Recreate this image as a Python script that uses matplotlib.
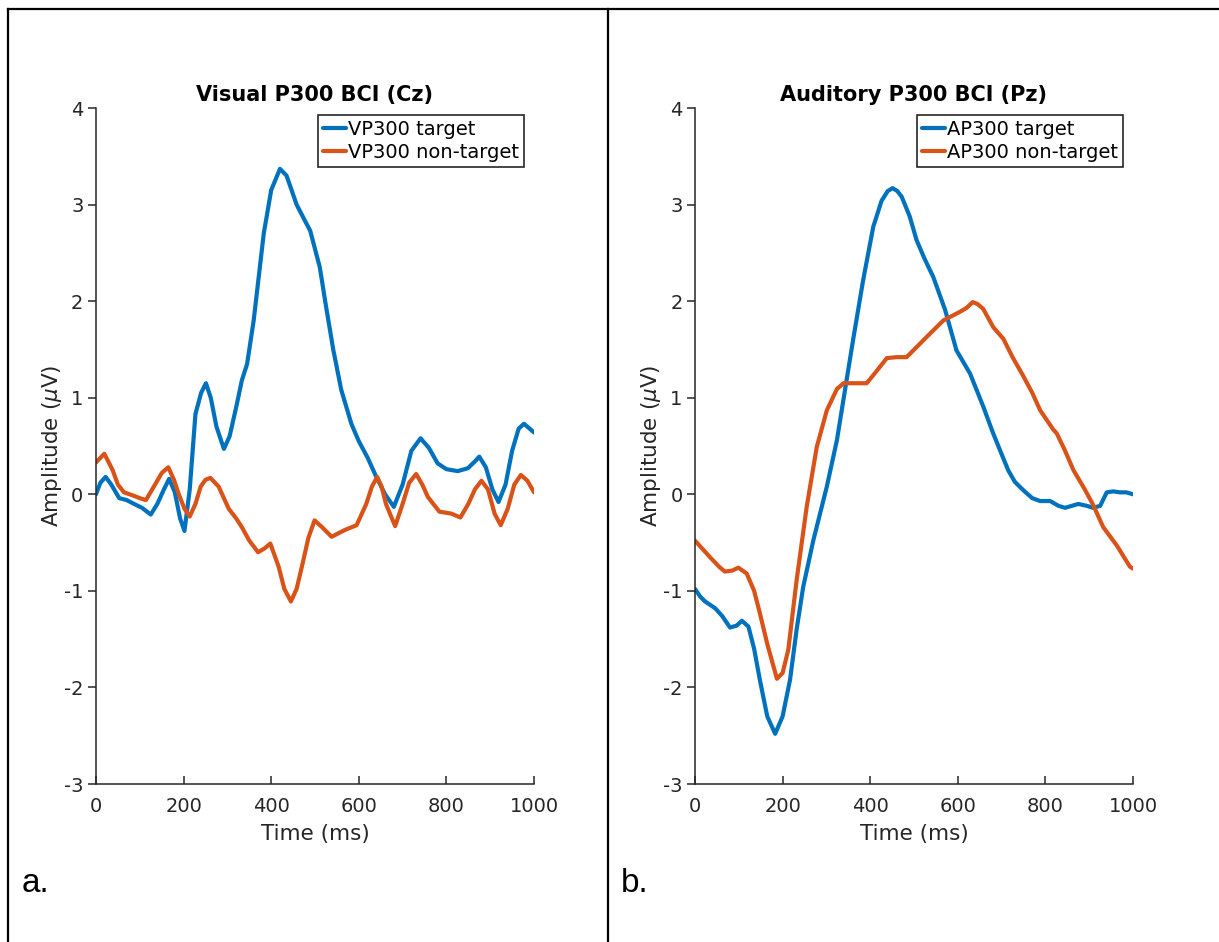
import matplotlib
matplotlib.use("Agg")
import matplotlib.pyplot as plt
from matplotlib.lines import Line2D

# ERP waveforms (time in ms, amplitude in microvolts)
vis_t_time = [0, 10, 22, 35, 53, 70, 87, 105, 125, 140,
              155, 167, 180, 192, 202, 214, 227, 240, 251, 262,
              275, 292, 305, 320, 333, 345, 360, 383, 400, 420,
              435, 458, 475, 489, 511, 525, 542, 560, 583, 600,
              620, 640, 660, 680, 700, 720, 741, 760, 780, 800,
              826, 849, 865, 875, 890, 905, 919, 935, 950, 965,
              977, 990, 1000]
vis_target = [0.0, 0.12, 0.18, 0.1, -0.04, -0.06, -0.1, -0.14, -0.21, -0.1,
              0.05, 0.16, 0.02, -0.25, -0.38, 0.05, 0.83, 1.05, 1.15, 1.0,
              0.7, 0.47, 0.6, 0.9, 1.18, 1.35, 1.8, 2.7, 3.15, 3.37,
              3.3, 3.0, 2.85, 2.73, 2.35, 1.95, 1.49, 1.08, 0.73, 0.55,
              0.38, 0.18, 0.0, -0.13, 0.1, 0.45, 0.58, 0.48, 0.32, 0.26,
              0.24, 0.27, 0.34, 0.39, 0.28, 0.05, -0.08, 0.1, 0.45, 0.68,
              0.73, 0.68, 0.64]

vis_n_time = [0, 19, 38, 50, 64, 83, 100, 114, 136, 150,
              165, 178, 189, 202, 214, 227, 239, 250, 261, 280,
              303, 320, 333, 350, 370, 385, 398, 417, 430, 445,
              458, 470, 485, 499, 516, 538, 555, 568, 595, 607,
              617, 630, 642, 652, 662, 683, 700, 715, 731, 745,
              758, 784, 811, 832, 850, 865, 880, 895, 910, 924,
              940, 955, 970, 985, 1000]
vis_nontarget = [0.33, 0.42, 0.25, 0.1, 0.02, -0.01, -0.04, -0.06, 0.11, 0.22,
                 0.28, 0.15, 0.0, -0.15, -0.23, -0.1, 0.08, 0.15, 0.17, 0.08,
                 -0.15, -0.25, -0.34, -0.48, -0.6, -0.56, -0.51, -0.75, -0.98, -1.11,
                 -0.98, -0.75, -0.45, -0.27, -0.34, -0.44, -0.4, -0.37, -0.32, -0.2,
                 -0.1, 0.08, 0.18, 0.08, -0.1, -0.33, -0.1, 0.12, 0.21, 0.1,
                 -0.03, -0.18, -0.2, -0.24, -0.1, 0.05, 0.14, 0.05, -0.2, -0.32,
                 -0.15, 0.1, 0.2, 0.14, 0.02]

aud_t_time = [0, 12, 23, 46, 62, 80, 95, 107, 122, 135,
              148, 165, 183, 200, 217, 232, 247, 270, 301, 324,
              346, 361, 384, 407, 426, 440, 451, 462, 472, 490,
              506, 525, 544, 571, 597, 628, 658, 680, 696, 715,
              730, 750, 770, 788, 811, 830, 845, 860, 875, 895,
              909, 925, 940, 955, 970, 985, 1000]
aud_target = [-0.98, -1.06, -1.11, -1.18, -1.26, -1.38, -1.36, -1.31, -1.37, -1.6,
              -1.92, -2.3, -2.48, -2.3, -1.92, -1.4, -0.96, -0.48, 0.08, 0.56,
              1.18, 1.6, 2.22, 2.77, 3.04, 3.14, 3.17, 3.14, 3.08, 2.88,
              2.63, 2.43, 2.25, 1.91, 1.49, 1.25, 0.91, 0.64, 0.46, 0.25,
              0.13, 0.04, -0.04, -0.07, -0.07, -0.12, -0.14, -0.12, -0.1, -0.12,
              -0.14, -0.12, 0.02, 0.03, 0.02, 0.02, 0.0]

aud_n_time = [0, 34, 55, 68, 85, 99, 118, 135, 148, 165,
              187, 200, 213, 232, 255, 278, 301, 324, 339, 360,
              392, 410, 438, 460, 483, 505, 529, 567, 605, 620,
              634, 645, 658, 681, 704, 725, 750, 770, 788, 818,
              826, 845, 864, 890, 909, 932, 963, 993, 1000]
aud_nontarget = [-0.48, -0.65, -0.75, -0.8, -0.79, -0.76, -0.82, -1.0, -1.23, -1.55,
                 -1.91, -1.85, -1.61, -0.89, -0.13, 0.49, 0.87, 1.09, 1.15, 1.15,
                 1.15, 1.25, 1.41, 1.42, 1.42, 1.52, 1.63, 1.8, 1.89, 1.93,
                 1.99, 1.97, 1.92, 1.73, 1.61, 1.42, 1.22, 1.05, 0.87, 0.67,
                 0.63, 0.45, 0.25, 0.05, -0.11, -0.34, -0.53, -0.75, -0.77]

x_ticks = [0, 200, 400, 600, 800, 1000]
y_ticks = [-3, -2, -1, 0, 1, 2, 3, 4]

BLUE = "#0072BD"
ORANGE = "#D95319"
AXC = "#262626"

plt.rcParams["font.family"] = "DejaVu Sans"
plt.rcParams["axes.unicode_minus"] = False

W, H = 1219, 942
fig = plt.figure(figsize=(W / 100, H / 100), dpi=100)

panels = [
    (96, "Visual P300 BCI (Cz)", "VP300", vis_t_time, vis_target, vis_n_time, vis_nontarget, "a."),
    (695, "Auditory P300 BCI (Pz)", "AP300", aud_t_time, aud_target, aud_n_time, aud_nontarget, "b."),
]

for x0, title, tag, tt, tv, nt, nv, letter in panels:
    ax = fig.add_axes([x0 / W, 1 - 784 / H, 438 / W, 676 / H])
    ax.plot(tt, tv, color=BLUE, lw=3.0, label=f"{tag} target",
            solid_joinstyle="round", solid_capstyle="round")
    ax.plot(nt, nv, color=ORANGE, lw=3.0, label=f"{tag} non-target",
            solid_joinstyle="round", solid_capstyle="round")
    ax.set_xlim(0, 1000)
    ax.set_ylim(-3, 4)
    ax.set_xticks(x_ticks)
    ax.set_xticklabels([str(v) for v in x_ticks])
    ax.set_yticks(y_ticks)
    ax.set_yticklabels([str(v) for v in y_ticks])
    for s in ("top", "right"):
        ax.spines[s].set_visible(False)
    for s in ("left", "bottom"):
        ax.spines[s].set_color(AXC)
        ax.spines[s].set_linewidth(1.1)
    ax.tick_params(axis="x", direction="in", length=6, width=1.1, color=AXC,
                   labelsize=14, labelcolor=AXC, pad=9)
    ax.tick_params(axis="y", direction="out", length=6, width=1.1, color=AXC,
                   labelsize=14, labelcolor=AXC, pad=3)
    ax.set_xlabel("Time (ms)", fontsize=15.5, color=AXC, labelpad=6)
    ax.set_ylabel(r"Amplitude ($\mu$V)", fontsize=15.5, color=AXC, labelpad=0)
    ax.set_title(title, fontsize=15, fontweight="bold", pad=5)
    leg = ax.legend(loc="upper right", bbox_to_anchor=(1 - 10 / 438, 1 - 7 / 676),
                    borderaxespad=0, fontsize=14, frameon=True, fancybox=False,
                    framealpha=1, edgecolor=AXC, handlelength=1.2,
                    handletextpad=0.1, borderpad=0.25, labelspacing=0.2)
    leg.get_frame().set_linewidth(1.2)
    fig.text((x0 - 74) / W, 1 - 884 / H, letter, fontsize=24,
             family="Liberation Sans", va="center", ha="left")

# outer table frame around the two panels
fig.add_artist(Line2D([8 / W, 1], [1 - 9 / H, 1 - 9 / H], color="black", lw=1.6))
fig.add_artist(Line2D([8 / W, 8 / W], [0, 1 - 9 / H], color="black", lw=1.6))
fig.add_artist(Line2D([608 / W, 608 / W], [0, 1 - 9 / H], color="black", lw=1.6))

fig.savefig("out.png", dpi=100)
